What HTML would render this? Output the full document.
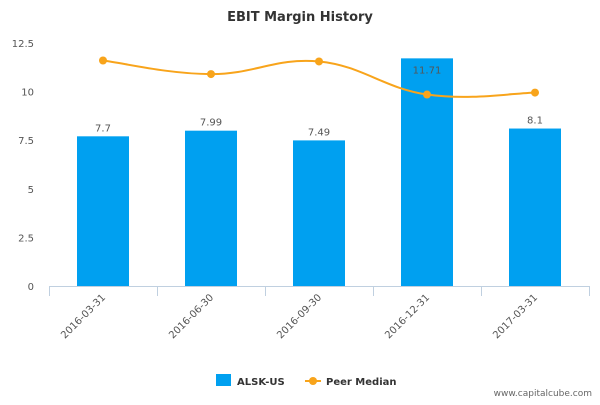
<!DOCTYPE html>
<html><head><meta charset="utf-8"><style>
body{margin:0;background:#fff;font-family:"Liberation Sans","DejaVu Sans",sans-serif}
svg text{font-family:"DejaVu Sans","Liberation Sans",sans-serif}
</style></head><body>
<svg id="chart" width="600" height="400" xmlns="http://www.w3.org/2000/svg">
<text x="300" y="21" text-anchor="middle" font-size="13" font-weight="bold" fill="#333">EBIT Margin History</text>
<g id="grid"></g><g id="bars"></g><g id="line"></g><g id="labels"></g>
<g>
<rect x="216" y="374" width="15" height="12" fill="#00a0f0"/>
<text x="237" y="385" font-size="10" font-weight="bold" fill="#333">ALSK-US</text>
<line x1="305" y1="381" x2="321" y2="381" stroke="#f8a41b" stroke-width="2"/>
<circle cx="313" cy="381" r="4" fill="#f8a41b"/>
<text x="326" y="385" font-size="10" font-weight="bold" fill="#333">Peer Median</text>
</g>
<text x="592" y="396" text-anchor="end" font-size="9" fill="#666">www.capitalcube.com</text>
</svg>
<script>
const categories=["2016-03-31","2016-06-30","2016-09-30","2016-12-31","2017-03-31"];
const alskValues=[7.7,7.99,7.49,11.71,8.1];
const alskLabels=["7.7","7.99","7.49","11.71","8.1"];
const peerValues=[11.6,10.9,11.55,9.85,9.95];
const yTicks=[0,2.5,5,7.5,10,12.5];
const yTickLabels=["0","2.5","5","7.5","10","12.5"];
const NS="http://www.w3.org/2000/svg";
const x0=49,bw=108,y0=286,ppu=243/12.5;
const xc=i=>x0+bw*i+bw/2, yv=v=>y0-v*ppu;
function mk(tag,attrs,parent,txt){const e=document.createElementNS(NS,tag);for(const k in attrs)e.setAttribute(k,attrs[k]);if(txt!==undefined)e.textContent=txt;parent.appendChild(e);return e;}
const grid=document.getElementById('grid'),bars=document.getElementById('bars'),line=document.getElementById('line'),labels=document.getElementById('labels');
yTicks.forEach((t,i)=>{const e=mk('text',{x:34,y:yv(t)+4,'text-anchor':'end','font-size':10,fill:'#555'},grid,yTickLabels[i]);

});
const ax=mk('line',{x1:x0,y1:y0+0.5,x2:x0+bw*5,y2:y0+0.5,stroke:'#c0d0e0'},grid);


for(let i=0;i<=5;i++){const t=mk('line',{x1:x0+bw*i+0.5,y1:y0,x2:x0+bw*i+0.5,y2:y0+10,stroke:'#c0d0e0'},grid);

}
categories.forEach((c,i)=>{const cx=xc(i)+3,cy=y0+12;const e=mk('text',{x:cx,y:cy,'text-anchor':'end','font-size':10,fill:'#555',transform:`rotate(-45 ${cx} ${cy})`},grid,c);

});
alskValues.forEach((v,i)=>{const r=mk('rect',{x:xc(i)-26,y:yv(v),width:52,height:y0-yv(v),fill:'#00a0f0'},bars);


const inside=v>11;const t=mk('text',{x:xc(i),y:inside?yv(v)+15:yv(v)-5,'text-anchor':'middle','font-size':10,fill:'#555'},labels,alskLabels[i]);

});
const pts=peerValues.map((v,i)=>[xc(i),yv(v)]);
let d=`M${pts[0][0]},${pts[0][1]}`;
for(let i=0;i<pts.length-1;i++){const p0=pts[Math.max(0,i-1)],p1=pts[i],p2=pts[i+1],p3=pts[Math.min(pts.length-1,i+2)];const k=0.2;
d+=` C${p1[0]+(p2[0]-p0[0])*k},${p1[1]+(p2[1]-p0[1])*k} ${p2[0]-(p3[0]-p1[0])*k},${p2[1]-(p3[1]-p1[1])*k} ${p2[0]},${p2[1]}`;}
const pl=mk('path',{d:d,fill:'none',stroke:'#f8a41b','stroke-width':2},line);


pts.forEach((p,i)=>{const c=mk('circle',{cx:p[0],cy:p[1],r:4,fill:'#f8a41b'},line);

});
</script>
</body></html>
